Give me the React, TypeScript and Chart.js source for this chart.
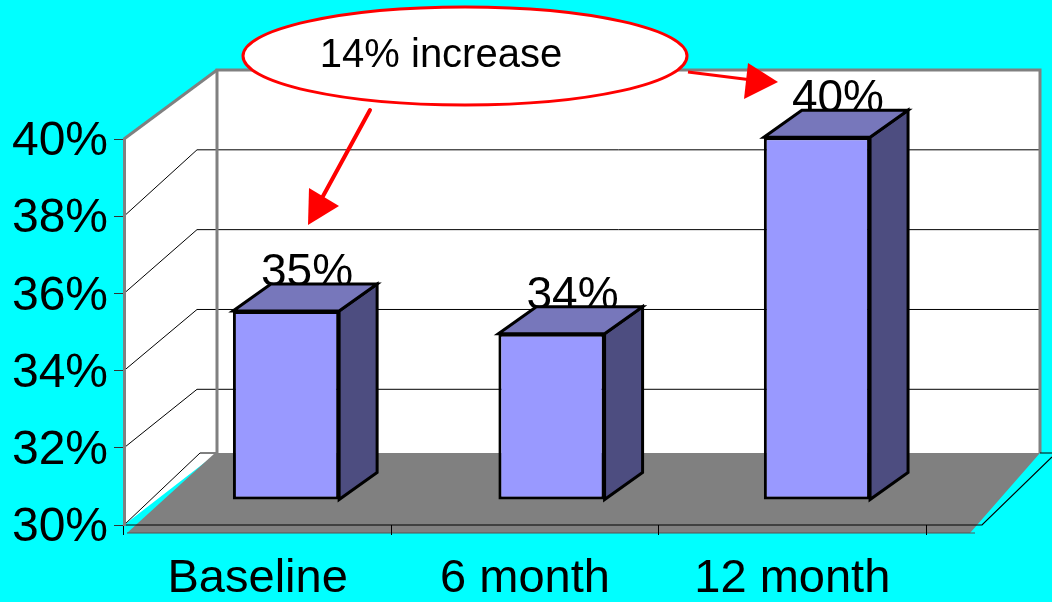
import React, { useEffect, useRef } from "react";
import { Chart, registerables } from "chart.js";

Chart.register(...registerables);

// ---- data ----
const categories = ["Baseline", "6 month", "12 month"];
const values = [35.0, 34.4, 39.6];
const yMin = 30;
const yMax = 40;
const yStep = 2;
const calloutText = "14% increase";

// ---- style ----
const FONT = '"Liberation Sans", Arial, Helvetica, sans-serif';
const BG = "#00FFFF";
const FRONT = "#9999FF";
const TOP = "#7777BB";
const SIDE = "#4D4D80";
const GRAY = "#808080";

// projection of the bar plane relative to the front (chart-area) plane
const BAR_PLANE = { dx: 29.3, dy: -25, kx: 0.993, ky: 0.979 };
const BAR_DEPTH = { x: 38, y: -27 };

function poly(ctx: CanvasRenderingContext2D, pts: number[][], fill?: string, stroke?: string, lw = 1) {
  ctx.beginPath();
  ctx.moveTo(pts[0][0], pts[0][1]);
  for (let i = 1; i < pts.length; i++) ctx.lineTo(pts[i][0], pts[i][1]);
  ctx.closePath();
  if (fill) {
    ctx.fillStyle = fill;
    ctx.fill();
  }
  if (stroke) {
    ctx.strokeStyle = stroke;
    ctx.lineWidth = lw;
    ctx.lineJoin = "miter";
    ctx.stroke();
  }
}

function line(ctx: CanvasRenderingContext2D, pts: number[][], color: string, lw: number) {
  ctx.beginPath();
  ctx.moveTo(pts[0][0], pts[0][1]);
  for (let i = 1; i < pts.length; i++) ctx.lineTo(pts[i][0], pts[i][1]);
  ctx.strokeStyle = color;
  ctx.lineWidth = lw;
  ctx.stroke();
}

function barGeom(chart: any) {
  const { left: L, bottom: B } = chart.chartArea;
  const sx = (x: number) => L + BAR_PLANE.dx + (x - L) * BAR_PLANE.kx;
  const sy = (y: number) => B + BAR_PLANE.dy + (y - B) * BAR_PLANE.ky;
  const meta = chart.getDatasetMeta(0);
  return meta.data.map((el: any) => {
    const p = el.getProps(["x", "y", "base", "width"], true);
    return {
      xl: sx(p.x - p.width / 2),
      xr: sx(p.x + p.width / 2),
      yt: sy(p.y),
      yb: sy(p.base),
    };
  });
}

const threeD = {
  id: "threeD",
  beforeDraw(chart: any) {
    const ctx: CanvasRenderingContext2D = chart.ctx;
    const { left: L, right: R, top: T, bottom: B } = chart.chartArea;
    const yS = chart.scales.y;
    ctx.save();
    ctx.fillStyle = BG;
    ctx.fillRect(0, 0, chart.width, chart.height);

    const backL = L + 93;
    const backR = R + 114;
    const backT = T - 69;
    const floorY = B - 72;
    const yBack = (v: number) => backT + (yS.getPixelForValue(v) - T) * 1.034;

    // walls
    ctx.fillStyle = "#fff";
    ctx.fillRect(backL, backT, backR - backL, floorY - backT);
    poly(ctx, [[L, T], [backL, backT], [backL, floorY], [L, B]], "#fff");

    // gridlines on walls
    for (let v = yMin; v < yMax; v += yStep) {
      const yf = yS.getPixelForValue(v);
      if (v === yMin) {
        line(ctx, [[L, yf], [L + 76, floorY], [backL, floorY]], "#000", 1);
      } else {
        const yb = yBack(v);
        line(ctx, [[L, yf], [L + 73, yb], [backR, yb]], "#000", 1);
      }
    }

    // wall borders
    line(ctx, [[backL, floorY], [backL, backT], [backR, backT], [backR, floorY]], GRAY, 3);
    line(ctx, [[L, T], [backL, backT]], GRAY, 3);

    // floor
    poly(ctx, [[L + 3, B + 8], [backL - 2, floorY], [backR, floorY], [R + 44, B + 8]], GRAY);
    line(ctx, [[L, B], [R + 56, B], [R + 126, B - 68]], "#000", 1.2);
    line(ctx, [[L + 3, B + 8], [R + 49, B + 8]], "#555", 1);
    line(ctx, [[backR, floorY], [R + 126, floorY]], "#000", 1);
    ctx.restore();
  },
  beforeDatasetsDraw(chart: any) {
    const ctx: CanvasRenderingContext2D = chart.ctx;
    const { left: L, bottom: B } = chart.chartArea;
    const g = barGeom(chart);
    ctx.save();
    ctx.fillStyle = "#000";
    ctx.font = `46px ${FONT}`;
    ctx.textAlign = "center";
    ctx.textBaseline = "alphabetic";
    g.forEach((b: any, i: number) => {
      const cx = (b.xl + b.xr) / 2 + BAR_DEPTH.x / 2 + 2;
      ctx.fillText(Math.round(values[i]) + "%", cx, b.yt + BAR_DEPTH.y + 2);
    });
    ctx.restore();
    ctx.save();
    ctx.translate(L + BAR_PLANE.dx, B + BAR_PLANE.dy);
    ctx.scale(BAR_PLANE.kx, BAR_PLANE.ky);
    ctx.translate(-L, -B);
  },
  afterDatasetsDraw(chart: any) {
    const ctx: CanvasRenderingContext2D = chart.ctx;
    ctx.restore();
    const g = barGeom(chart);
    ctx.save();
    const dx = BAR_DEPTH.x;
    const dy = BAR_DEPTH.y;
    g.forEach((b: any) => {
      poly(ctx, [[b.xr, b.yt], [b.xr + dx, b.yt + dy], [b.xr + dx, b.yb + dy], [b.xr, b.yb]], SIDE, "#000", 3);
      poly(ctx, [[b.xl, b.yt], [b.xl + dx, b.yt + dy], [b.xr + dx, b.yt + dy], [b.xr, b.yt]], TOP, "#000", 3);
    });
    ctx.restore();
  },
  afterDraw(chart: any) {
    const ctx: CanvasRenderingContext2D = chart.ctx;
    ctx.save();
    // callout ellipse
    ctx.beginPath();
    ctx.ellipse(465, 56, 222, 49, 0, 0, Math.PI * 2);
    ctx.fillStyle = "#fff";
    ctx.fill();
    ctx.strokeStyle = "#FF0000";
    ctx.lineWidth = 3;
    ctx.stroke();
    ctx.fillStyle = "#000";
    ctx.font = `40px ${FONT}`;
    ctx.textAlign = "center";
    ctx.textBaseline = "alphabetic";
    ctx.fillText(calloutText, 441, 67);

    // right arrow
    line(ctx, [[688, 72], [752, 80]], "#FF0000", 3);
    poly(ctx, [[748, 63], [778, 82], [744, 99]], "#FF0000");
    // left arrow
    ctx.lineCap = "round";
    line(ctx, [[370, 110], [322, 198]], "#FF0000", 4);
    poly(ctx, [[309, 188], [339, 206], [308, 225]], "#FF0000");
    ctx.restore();
  },
};

export default function App() {
  const ref = useRef<HTMLCanvasElement | null>(null);
  useEffect(() => {
    if (!ref.current) return;
    const chart = new Chart(ref.current, {
      type: "bar",
      data: {
        labels: categories,
        datasets: [
          {
            data: values,
            base: yMin,
            backgroundColor: FRONT,
            borderColor: "#000",
            borderWidth: 3,
            borderSkipped: false,
            barPercentage: 0.4,
            categoryPercentage: 1,
            clip: false as any,
          } as any,
        ],
      },
      options: {
        responsive: false,
        animation: false,
        events: [],
        layout: { padding: { top: 139, right: 126, left: 0, bottom: 0 } },
        plugins: { legend: { display: false }, tooltip: { enabled: false }, title: { display: false } },
        scales: {
          x: {
            afterFit: (s: any) => {
              s.height = 77;
            },
            grid: { drawOnChartArea: false, drawTicks: true, tickLength: 10, color: "#000", lineWidth: 1, offset: true },
            border: { display: false },
            ticks: {
              color: "#000",
              font: { family: FONT, size: 47 },
              padding: 16,
              autoSkip: false,
              maxRotation: 0,
            },
          },
          y: {
            min: yMin,
            max: yMax,
            afterFit: (s: any) => {
              s.width = 124;
            },
            grid: { drawOnChartArea: false, drawTicks: true, tickLength: 10, color: "#333", lineWidth: 1 },
            border: { display: true, color: GRAY, width: 3 },
            ticks: {
              stepSize: yStep,
              color: "#000",
              font: { family: FONT, size: 48 },
              padding: 6,
              labelOffset: 3,
              callback: (v: any) => v + "%",
            },
          },
        },
      },
      plugins: [threeD],
    });
    return () => chart.destroy();
  }, []);
  return (
    <div style={{ position: "absolute", left: 0, top: 0, width: 1052, height: 602, background: BG }}>
      <canvas ref={ref} width={1052} height={602} style={{ display: "block" }} />
    </div>
  );
}
